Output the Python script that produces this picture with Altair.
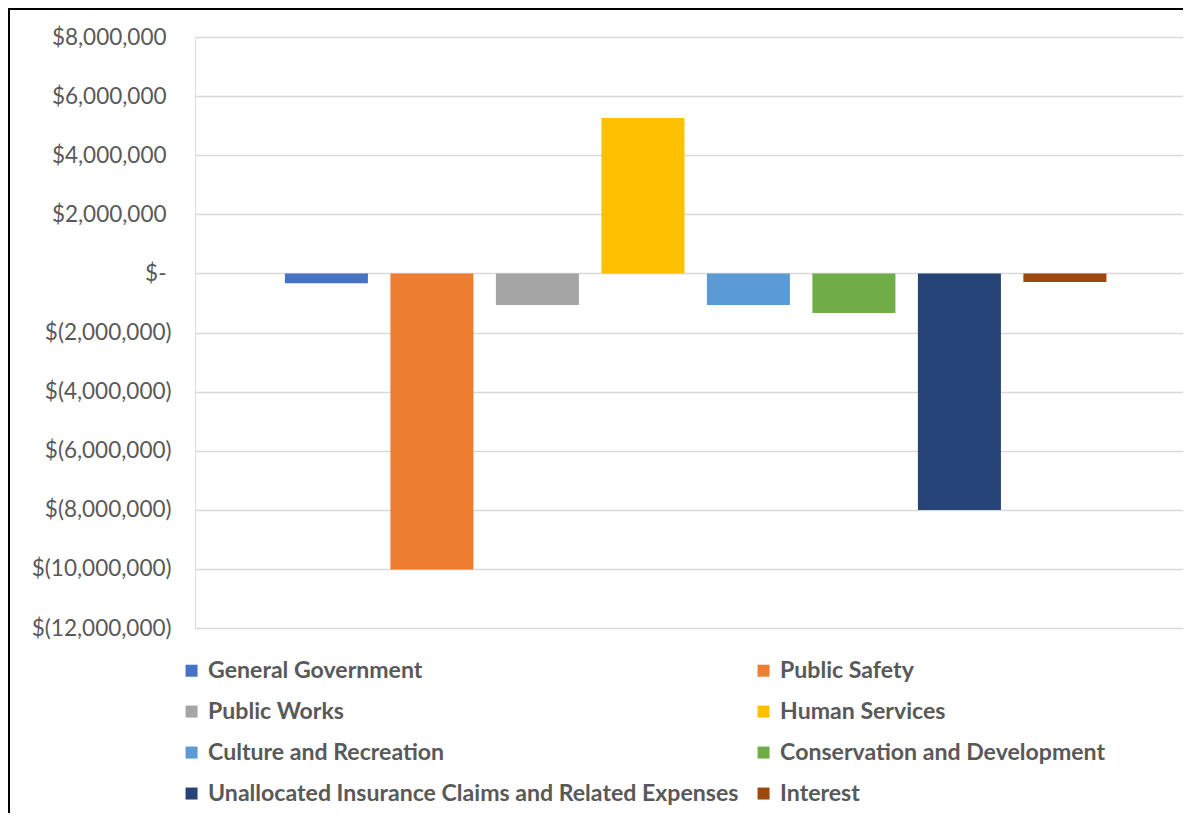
import altair as alt
import pandas as pd

categories = [
    "General Government",
    "Public Safety",
    "Public Works",
    "Human Services",
    "Culture and Recreation",
    "Conservation and Development",
    "Unallocated Insurance Claims and Related Expenses",
    "Interest",
]
values = [-330000, -10020000, -1070000, 5260000, -1070000, -1340000, -8010000, -290000]
colors = ["#4472C4", "#ED7D31", "#A5A5A5", "#FFC000", "#5B9BD5", "#70AD47", "#264478", "#9E480E"]
neg_ticks = [-12000000, -10000000, -8000000, -6000000, -4000000, -2000000]
pos_ticks = [0, 2000000, 4000000, 6000000, 8000000]

# legend is filled column by column: left column first, then right column
legend_order = [categories[i] for i in (0, 2, 4, 6, 1, 3, 5, 7)]
legend_colors = [colors[i] for i in (0, 2, 4, 6, 1, 3, 5, 7)]

df = pd.DataFrame({"category": categories, "value": values})

W, H = 988, 591

neg_expr = "'$(' + format(-datum.value, ',') + ')'"
pos_expr = "datum.value == 0 ? '$-' : '$' + format(datum.value, ',')"

x_enc = alt.X("category:N", sort=categories, axis=None,
              scale=alt.Scale(paddingInner=0.213, paddingOuter=0.789, align=0.54))
y_scale = alt.Scale(domain=[-12000000, 8000000], nice=False, zero=False)

axis_common = dict(title=None, domain=False, ticks=False, orient="left",
                   labelFont="Lato", labelFontSize=22.5, labelColor="#595959",
                   grid=True, gridColor="#d9d9d9", gridWidth=1.3)

bars = alt.Chart(df).mark_bar().encode(
    x=x_enc,
    y=alt.Y("value:Q", scale=y_scale,
            axis=alt.Axis(values=neg_ticks, labelExpr=neg_expr, labelPadding=24,
                          **axis_common)),
    color=alt.Color("category:N",
                    scale=alt.Scale(domain=legend_order, range=legend_colors),
                    legend=alt.Legend(orient="none", legendX=-15, legendY=622,
                                      columns=2, title=None, symbolType="square",
                                      symbolSize=144, symbolStrokeWidth=0,
                                      labelFont="Lato", labelFontWeight="bold",
                                      labelFontSize=23.1, labelColor="#595959",
                                      labelLimit=1000, rowPadding=17,
                                      columnPadding=13, labelOffset=5, padding=0)),
)

# same bars, transparent, carrying the axis for zero and positive values
bars_pos_axis = alt.Chart(df).mark_bar(opacity=0).encode(
    x=x_enc,
    y=alt.Y("value:Q", scale=y_scale,
            axis=alt.Axis(values=pos_ticks, labelExpr=pos_expr, labelPadding=29,
                          **axis_common)),
)

frame_df = pd.DataFrame({"a": [0]})
frame_top = alt.Chart(frame_df).mark_rule(color="#000000", strokeWidth=2).encode(
    x=alt.value(-187), x2=alt.value(W), y=alt.value(-28)
)
frame_left = alt.Chart(frame_df).mark_rule(color="#000000", strokeWidth=2).encode(
    x=alt.value(-186), y=alt.value(-29), y2=alt.value(H + 190)
)

chart = alt.layer(bars_pos_axis, bars, frame_top, frame_left).resolve_axis(
    y="independent"
).properties(
    width=W, height=H,
    autosize=alt.AutoSizeParams(type="none"),
    padding={"left": 187, "top": 29, "right": 0, "bottom": 185},
).configure_view(stroke=None).configure(background="white")

chart.save("out.html", embed_options={"renderer": "svg", "actions": False})
